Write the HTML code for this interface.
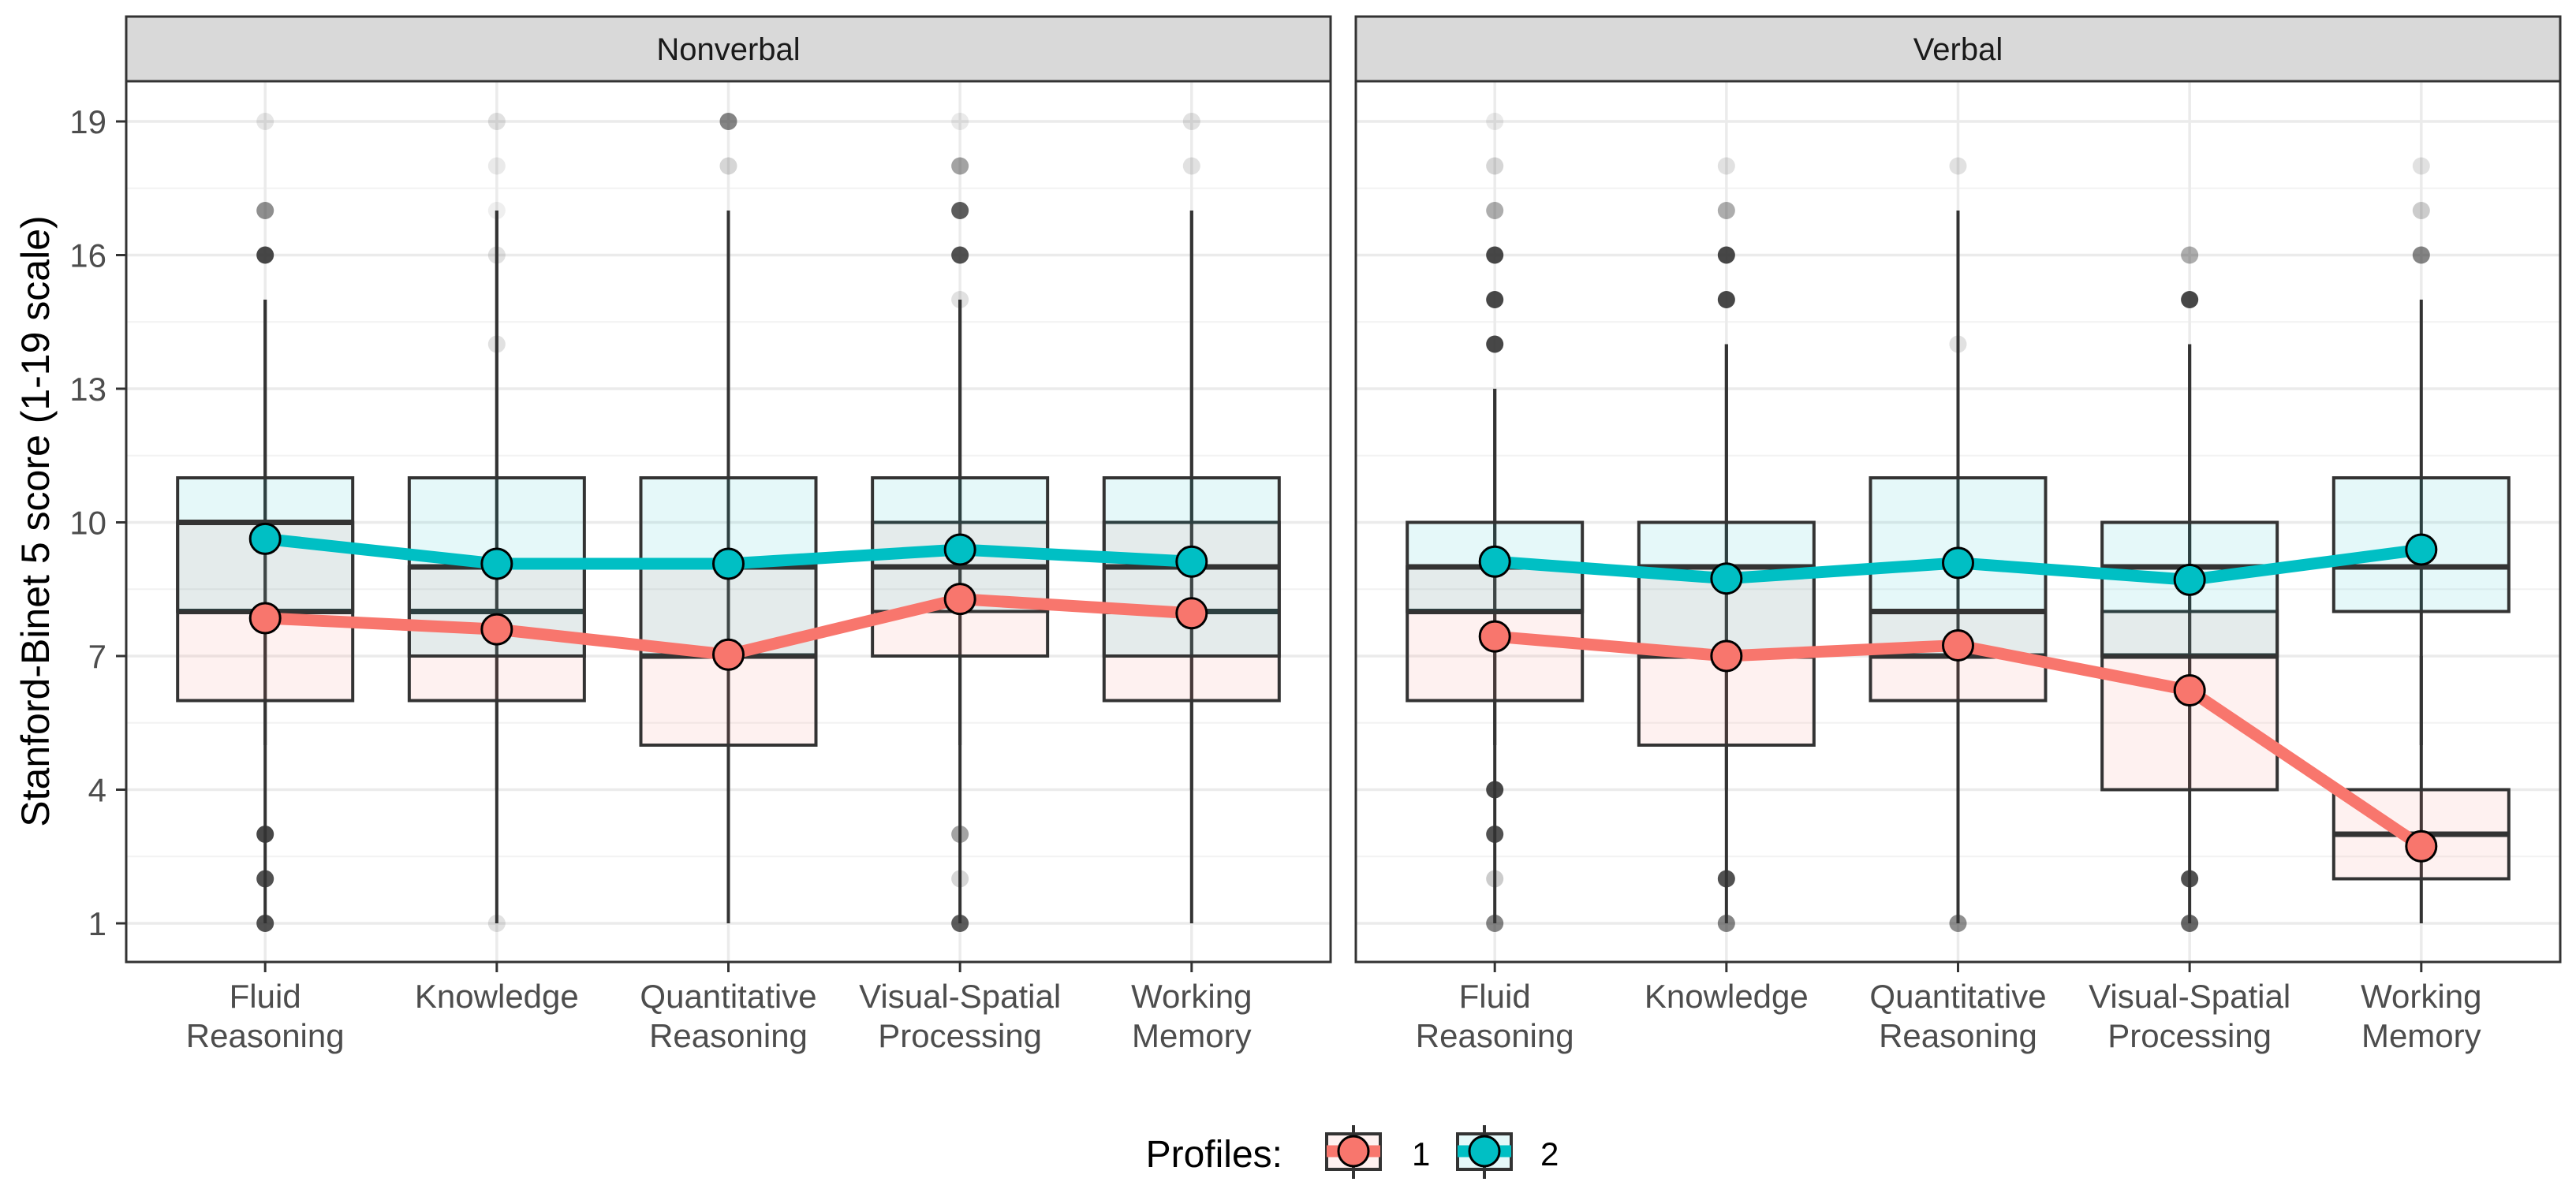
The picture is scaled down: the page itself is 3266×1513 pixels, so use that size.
<!DOCTYPE html>
<html><head><meta charset="utf-8"><style>
html,body{margin:0;padding:0;background:#fff}
svg{display:block;font-family:"Liberation Sans",Arial,sans-serif}
</style></head><body>
<svg id="chart" width="3266" height="1513" viewBox="0 0 3266 1513" xmlns="http://www.w3.org/2000/svg">
<g id="root"></g>
</svg>
<script>
const panels = ["Nonverbal", "Verbal"];
const categories = ["Fluid|Reasoning", "Knowledge", "Quantitative|Reasoning", "Visual-Spatial|Processing", "Working|Memory"];
const yTicks = [1, 4, 7, 10, 13, 16, 19];
// box stats [panel][category] per profile
const p1Q1 = [[6,6,5,7,6],[6,5,6,4,2]];
const p1Med = [[8,8,7,9,8],[8,7,7,7,3]];
const p1Q3 = [[10,9,9,10,10],[9,9,8,8,4]];
const p1WLo = [[1,1,1,1,1],[1,1,1,1,1]];
const p1WHi = [[15,17,17,15,17],[13,14,17,14,7]];
const p2Q1 = [[8,7,7,8,7],[8,7,7,7,8]];
const p2Med = [[10,9,9,9,9],[9,9,8,9,9]];
const p2Q3 = [[11,11,11,11,11],[10,10,11,10,11]];
const p2WLo = [[5,4,4,5,4],[5,4,4,4,5]];
const p2WHi = [[15,17,17,15,17],[13,14,17,14,15]];
// means
const p1Mean = [[7.85,7.6,7.03,8.28,7.96],[7.44,7.0,7.24,6.23,2.73]];
const p2Mean = [[9.63,9.07,9.07,9.39,9.12],[9.12,8.74,9.09,8.71,9.39]];
// outliers: panel, category, value, opacity
const outPanel = [0,0,0,0,0,0, 0,0,0,0,0,0, 0,0, 0,0,0,0,0,0,0,0, 0,0, 1,1,1,1,1,1,1,1,1,1, 1,1,1,1,1,1, 1,1,1, 1,1,1,1, 1,1,1];
const outCat   = [0,0,0,0,0,0, 1,1,1,1,1,1, 2,2, 3,3,3,3,3,3,3,3, 4,4, 0,0,0,0,0,0,0,0,0,0, 1,1,1,1,1,1, 2,2,2, 3,3,3,3, 4,4,4];
const outVal   = [19,17,16,3,2,1, 19,18,17,16,14,1, 19,18, 19,18,17,16,15,3,2,1, 19,18, 19,18,17,16,15,14,4,3,2,1, 18,17,16,15,2,1, 18,14,1, 16,15,2,1, 18,17,16];
const outAlpha = [0.12,0.55,0.9,0.9,0.85,0.85, 0.15,0.1,0.08,0.15,0.15,0.15, 0.6,0.2, 0.1,0.45,0.8,0.85,0.15,0.45,0.2,0.8, 0.15,0.15, 0.1,0.2,0.4,0.9,0.9,0.9,0.9,0.85,0.25,0.6, 0.15,0.4,0.9,0.9,0.85,0.6, 0.15,0.15,0.55, 0.4,0.9,0.85,0.75, 0.15,0.25,0.6];

const NS = "http://www.w3.org/2000/svg";
const root = document.getElementById("root");
const panelX = [160, 1719], panelW = 1527, panelTop = 103, panelBot = 1220;
const C1 = "#F8766D", C2 = "#00BFC4";
function yS(v){ return 1171 - (v - 1) * 56.5; }
function xS(p, i){ return panelX[p] + panelW * (0.6 + i) / 5.2; }
function mk(tag, attrs, parent){
  const e = document.createElementNS(NS, tag);
  for (const k in attrs) e.setAttribute(k, attrs[k]);
  (parent || root).appendChild(e);
  return e;
}
const BW = 111;

// y axis title
const yt = mk("text", {x: 0, y: 0, transform: "translate(62,661) rotate(-90)", "text-anchor": "middle", "font-size": 50, fill: "#000"});


yt.textContent = "Stanford-Binet 5 score (1-19 scale)";

// y tick labels
yTicks.forEach(t => {
  const tl = mk("text", {x: 135, y: yS(t) + 15, "text-anchor": "end", "font-size": 42, fill: "#4d4d4d"});
  
  
  tl.textContent = t;
  mk("line", {x1: 147, x2: 160, y1: yS(t), y2: yS(t), stroke: "#333", "stroke-width": 3});
});

panels.forEach((pn, p) => {
  const g = mk("g", {});
  
  
  const x0 = panelX[p];
  // strip
  const st = mk("rect", {x: x0, y: 21, width: panelW, height: 82, fill: "#d9d9d9", stroke: "#333", "stroke-width": 3}, g);
  
  
  const stt = mk("text", {x: x0 + panelW / 2, y: 76, "text-anchor": "middle", "font-size": 40, fill: "#1a1a1a"}, g);
  
  
  stt.textContent = pn;
  mk("rect", {x: x0, y: panelTop, width: panelW, height: panelBot - panelTop, fill: "#fff"}, g);
  // grid
  for (let v = 2.5; v < 19; v += 3) mk("line", {x1: x0, x2: x0 + panelW, y1: yS(v), y2: yS(v), stroke: "#f2f2f2", "stroke-width": 2}, g);
  yTicks.forEach(t => mk("line", {x1: x0, x2: x0 + panelW, y1: yS(t), y2: yS(t), stroke: "#ebebeb", "stroke-width": 3.5}, g));
  categories.forEach((c, i) => mk("line", {x1: xS(p, i), x2: xS(p, i), y1: panelTop, y2: panelBot, stroke: "#ebebeb", "stroke-width": 3.5}, g));
  // boxes
  categories.forEach((c, i) => {
    const cx = xS(p, i);
    [[p1Q1, p1Med, p1Q3, p1WLo, p1WHi, C1], [p2Q1, p2Med, p2Q3, p2WLo, p2WHi, C2]].forEach(([q1, md, q3, wl, wh, col], k) => {
      const wk = mk("line", {x1: cx, x2: cx, y1: yS(wh[p][i]), y2: yS(wl[p][i]), stroke: "#333", "stroke-width": 4}, g);
      
      
    });
    [[p1Q1, p1Med, p1Q3, C1], [p2Q1, p2Med, p2Q3, C2]].forEach(([q1, md, q3, col], k) => {
      const b = mk("rect", {x: cx - BW, y: yS(q3[p][i]), width: 2 * BW, height: yS(q1[p][i]) - yS(q3[p][i]), fill: col, "fill-opacity": 0.1, stroke: "#333", "stroke-width": 4}, g);
      
      
      const m = mk("line", {x1: cx - BW, x2: cx + BW, y1: yS(md[p][i]), y2: yS(md[p][i]), stroke: "#333", "stroke-width": 7}, g);
      
      
    });
  });
  // outliers
  outVal.forEach((v, j) => {
    if (outPanel[j] !== p) return;
    const o = mk("circle", {cx: xS(p, outCat[j]), cy: yS(v), r: 11, fill: "#333", "fill-opacity": outAlpha[j]}, g);
    
    
  });
  // mean lines
  [[p1Mean, C1, 1], [p2Mean, C2, 2]].forEach(([mn, col, n]) => {
    const pts = categories.map((c, i) => xS(p, i) + "," + yS(mn[p][i])).join(" ");
    const pl = mk("polyline", {points: pts, fill: "none", stroke: col, "stroke-width": 15, "stroke-linejoin": "round"}, g);
    
    
    categories.forEach((c, i) => {
      const pt = mk("circle", {cx: xS(p, i), cy: yS(mn[p][i]), r: 19, fill: col, stroke: "#000", "stroke-width": 3}, g);
      
      
    });
  });
  // border
  mk("rect", {x: x0, y: panelTop, width: panelW, height: panelBot - panelTop, fill: "none", stroke: "#333", "stroke-width": 3}, g);
  // x ticks + labels
  categories.forEach((c, i) => {
    const cx = xS(p, i);
    mk("line", {x1: cx, x2: cx, y1: panelBot, y2: panelBot + 13, stroke: "#333", "stroke-width": 3}, g);
    const lines = c.split("|");
    const tx = mk("text", {x: cx, y: 1278, "text-anchor": "middle", "font-size": 42, fill: "#4d4d4d"}, g);
    
    
    lines.forEach((l, k) => {
      const ts = mk("tspan", {x: cx, dy: k === 0 ? 0 : 50}, tx);
      ts.textContent = l;
    });
  });
});

// legend
const lg = mk("g", {});


const lt = mk("text", {x: 1626, y: 1480, "text-anchor": "end", "font-size": 48, fill: "#000"}, lg);


lt.textContent = "Profiles:";
[[1682, C1, "1", 1790], [1848, C2, "2", 1953]].forEach(([kx, col, lab, tx]) => {
  const ke = mk("g", {}, lg);
  
  
  mk("line", {x1: kx + 34, x2: kx + 34, y1: 1427, y2: 1495, stroke: "#333", "stroke-width": 4}, ke);
  mk("rect", {x: kx, y: 1438, width: 68, height: 45, fill: col, "fill-opacity": 0.1, stroke: "#333", "stroke-width": 4}, ke);
  mk("line", {x1: kx, x2: kx + 68, y1: 1460, y2: 1460, stroke: col, "stroke-width": 15}, ke);
  mk("circle", {cx: kx + 34, cy: 1460, r: 19, fill: col, stroke: "#000", "stroke-width": 3}, ke);
  const t = mk("text", {x: tx, y: 1478, "font-size": 42, fill: "#000"}, ke);
  t.textContent = lab;
});
</script>
</body></html>
